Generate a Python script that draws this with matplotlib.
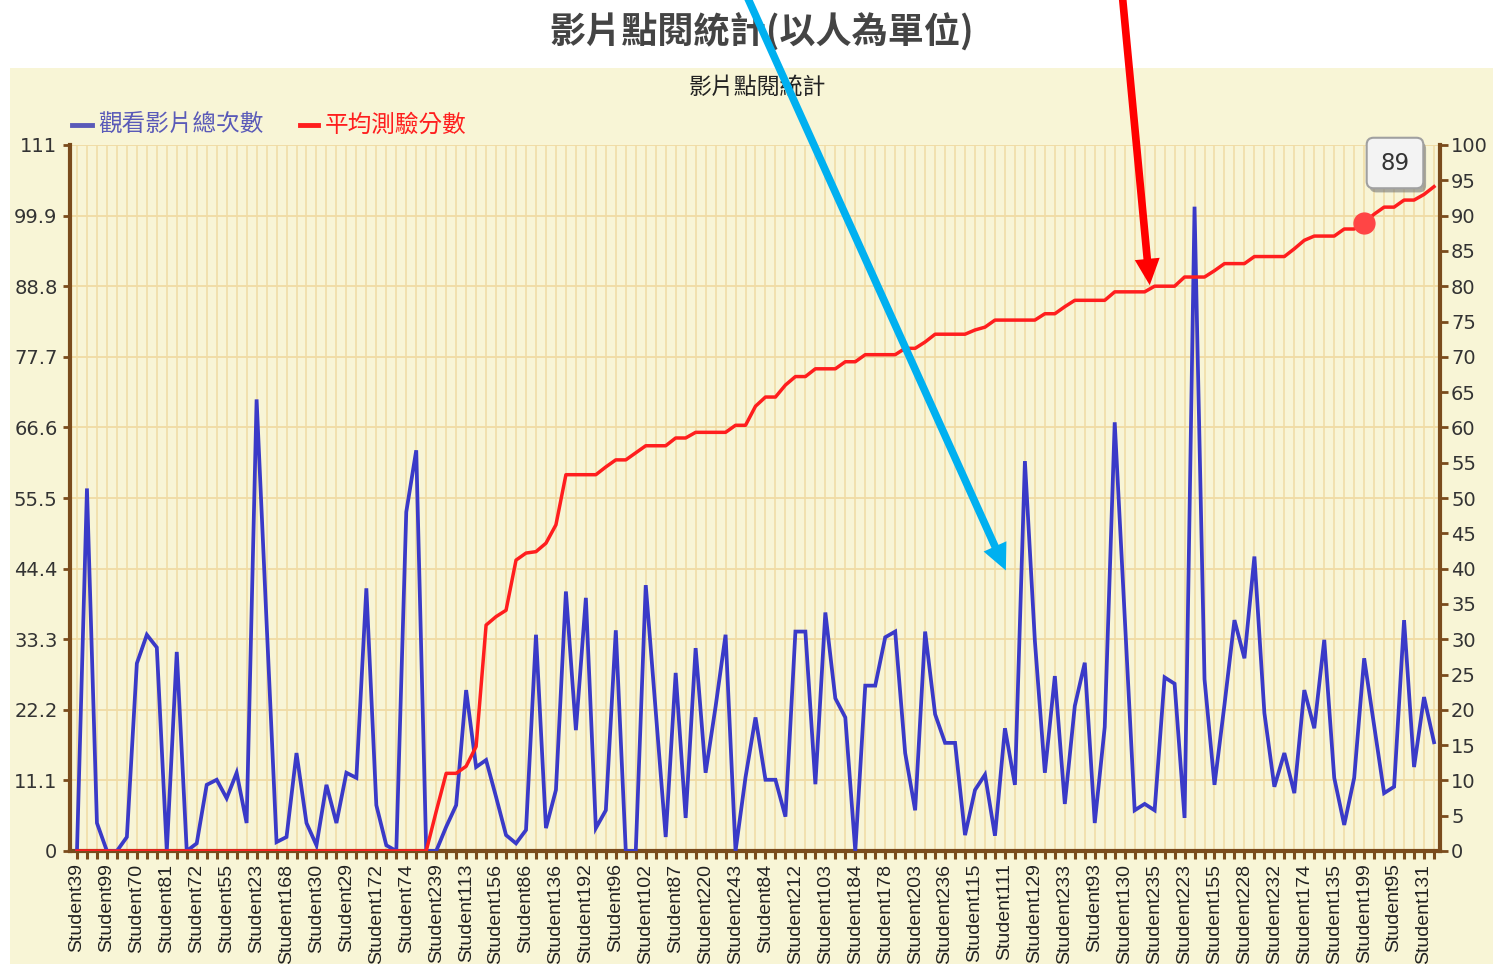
import matplotlib
matplotlib.use("Agg")
import matplotlib.pyplot as plt
from matplotlib.lines import Line2D
from matplotlib.patches import Rectangle, FancyArrowPatch
from matplotlib import patheffects as pe

# ── Data ──────────────────────────────────────────────────────────────────────

# every third student is labelled on the x axis
tick_names = [
    "Student39", "Student99", "Student70", "Student81", "Student72", "Student55",
    "Student23", "Student168", "Student30", "Student29", "Student172", "Student74",
    "Student239", "Student113", "Student156", "Student86", "Student136", "Student192",
    "Student96", "Student102", "Student87", "Student220", "Student243", "Student84",
    "Student212", "Student103", "Student184", "Student178", "Student203", "Student236",
    "Student115", "Student111", "Student129", "Student233", "Student93", "Student130",
    "Student235", "Student223", "Student155", "Student228", "Student232", "Student174",
    "Student135", "Student199", "Student95", "Student131",
]

# 觀看影片總次數 (left axis)
views = [
    0, 57, 4.4, 0, 0, 2.2, 29.5, 34, 32, 0,
    31.3, 0, 1.2, 10.4, 11.2, 8.3, 12.3, 4.4, 71, 36,
    1.4, 2.2, 15.4, 4.4, 0.9, 10.4, 4.4, 12.3, 11.5, 41.3,
    7.2, 0.9, 0, 53.3, 63, 0, 0, 3.8, 7.2, 25.3,
    13.2, 14.3, 8.5, 2.5, 1.2, 3.3, 34, 3.6, 9.6, 40.8,
    19, 39.8, 3.6, 6.4, 34.7, 0, 0, 41.8, 22, 2.2,
    28, 5.2, 31.9, 12.3, 22.7, 34, 0, 11.6, 21, 11.2,
    11.2, 5.4, 34.5, 34.5, 10.5, 37.5, 24, 21, 0, 26,
    26, 33.6, 34.5, 15.4, 6.4, 34.5, 21.5, 17, 17, 2.5,
    9.6, 12, 2.4, 19.3, 10.4, 61.3, 33, 12.3, 27.5, 7.4,
    22.8, 29.6, 4.4, 19.5, 67.4, 37, 6.4, 7.4, 6.4, 27.3,
    26.3, 5.2, 101.3, 27, 10.4, 23, 36.3, 30.3, 46.3, 21.7,
    10.1, 15.4, 9.1, 25.3, 19.3, 33.2, 11.5, 4.1, 11.5, 30.3,
    19.7, 9.1, 10.1, 36.3, 13.2, 24.2, 17.1,
]

# 平均測驗分數 (right axis)
scores = [
    0, 0, 0, 0, 0, 0, 0, 0, 0, 0,
    0, 0, 0, 0, 0, 0, 0, 0, 0, 0,
    0, 0, 0, 0, 0, 0, 0, 0, 0, 0,
    0, 0, 0, 0, 0, 0, 5.6, 11, 11, 12,
    14.8, 32, 33.2, 34.1, 41.2, 42.2, 42.4, 43.6, 46.2, 53.3,
    53.3, 53.3, 53.3, 54.4, 55.4, 55.4, 56.4, 57.4, 57.4, 57.4,
    58.5, 58.5, 59.3, 59.3, 59.3, 59.3, 60.3, 60.3, 63, 64.3,
    64.3, 66, 67.2, 67.2, 68.3, 68.3, 68.3, 69.3, 69.3, 70.3,
    70.3, 70.3, 70.3, 71.2, 71.2, 72.1, 73.2, 73.2, 73.2, 73.2,
    73.8, 74.2, 75.2, 75.2, 75.2, 75.2, 75.2, 76.1, 76.1, 77.1,
    78, 78, 78, 78, 79.2, 79.2, 79.2, 79.2, 80, 80,
    80, 81.3, 81.3, 81.3, 82.2, 83.2, 83.2, 83.2, 84.2, 84.2,
    84.2, 84.2, 85.3, 86.5, 87.1, 87.1, 87.1, 88.1, 88.1, 89,
    90.2, 91.2, 91.2, 92.2, 92.2, 93, 94.1,
]

left_ticks = [0, 11.1, 22.2, 33.3, 44.4, 55.5, 66.6, 77.7, 88.8, 99.9, 111]
left_labels = ["0", "11.1", "22.2", "33.3", "44.4", "55.5",
               "66.6", "77.7", "88.8", "99.9", "111"]
right_ticks = list(range(0, 101, 5))
hover_index = 129

# ── Style ─────────────────────────────────────────────────────────────────────

BROWN = "#7a4b1c"
BG = "#f8f5d6"
GRID = "#f0dba4"
BLUE = "#3a3ac8"
RED = "#ff1e1e"

plt.rcParams["font.family"] = ["Noto Sans CJK TC", "DejaVu Sans"]

W, H = 1493, 964


def fx(px):
    return px / W


def fy(py):
    return 1 - py / H


fig = plt.figure(figsize=(W / 100, H / 100), dpi=100)
fig.patch.set_facecolor("white")
fig.add_artist(Rectangle((fx(10), 0), 1, fy(68), transform=fig.transFigure,
                         facecolor=BG, edgecolor="none", zorder=0))

ax = fig.add_axes([fx(70), fy(851), fx(1440) - fx(70), fy(145) - fy(851)])
ax.set_facecolor(BG)
xs = list(range(len(views)))

ax.plot(xs, views, color=BLUE, lw=2.7, solid_joinstyle="miter", zorder=3)
ax.set_xlim(-0.7, len(views) - 0.4)
ax.set_ylim(0, 111)
ax.set_yticks(left_ticks)
ax.set_yticklabels(left_labels, fontsize=14, family="DejaVu Sans", color="#333")
ax.set_xticks(xs[::3])
ax.set_xticklabels(tick_names, rotation=90, fontsize=14,
                   family="Liberation Sans", color="#222")
ax.set_xticks(xs, minor=True)
ax.grid(True, axis="x", which="both", color=GRID, lw=1.1)
ax.grid(True, axis="y", which="major", color=GRID, lw=1.3)
ax.set_axisbelow(True)
ax.tick_params(axis="x", which="both", length=6, width=2.2, color=BROWN,
               direction="out", pad=3)
ax.tick_params(axis="y", length=5, width=2, color=BROWN, pad=4)
for s in ("top", "right"):
    ax.spines[s].set_visible(False)
for s in ("left", "bottom"):
    ax.spines[s].set_color(BROWN)
    ax.spines[s].set_linewidth(3)

ax2 = ax.twinx()
ax2.plot(xs, scores, color=RED, lw=2.5, zorder=4)
ax2.plot(hover_index, scores[hover_index], "o", ms=15, color="#ff4545", zorder=5)
ax2.set_ylim(0, 100)
ax2.set_yticks(right_ticks)
ax2.set_yticklabels([str(t) for t in right_ticks], fontsize=14,
                    family="DejaVu Sans", color="#333")
ax2.tick_params(axis="y", length=6, width=2, color=BROWN, pad=2)
for s in ("top", "left", "bottom"):
    ax2.spines[s].set_visible(False)
ax2.spines["right"].set_color(BROWN)
ax2.spines["right"].set_linewidth(3)

# ── Titles and legend ─────────────────────────────────────────────────────────

fig.text(fx(762), fy(31), "影片點閱統計(以人為單位)", fontsize=26, weight="bold",
         color="#444", ha="center", va="center")
fig.text(fx(757), fy(88), "影片點閱統計", fontsize=16.5, color="#222",
         ha="center", va="center")

fig.add_artist(Line2D([fx(72), fx(92)], [fy(125), fy(125)], color="#5a5ab8",
                      lw=3.5, transform=fig.transFigure))
fig.text(fx(98), fy(125), "觀看影片總次數", fontsize=17, color="#5a5ab8",
         ha="left", va="center")
fig.add_artist(Line2D([fx(300), fx(318)], [fy(125), fy(125)], color=RED,
                      lw=3.5, transform=fig.transFigure))
fig.text(fx(325), fy(125), "平均測驗分數", fontsize=17, color=RED,
         ha="left", va="center")

# tooltip of the hovered point
tip = fig.text(fx(1395), fy(163), f"{scores[hover_index]:.0f}", fontsize=16.5,
               family="DejaVu Sans", color="#333", ha="center", va="center",
               bbox=dict(boxstyle="round,pad=0.6,rounding_size=0.3",
                         fc="#f3f3f3", ec="#a0a0a0", lw=1.5))
tip.get_bbox_patch().set_path_effects(
    [pe.SimplePatchShadow(offset=(2, -3), shadow_rgbFace="#777", alpha=0.6),
     pe.Normal()])

# ── Annotation arrows ─────────────────────────────────────────────────────────

for start, end, col in (((745, -8), (1007, 573), "#00b0f0"),
                        ((1122, -8), (1150, 288), "#ff0000")):
    fig.add_artist(FancyArrowPatch(
        (fx(start[0]), fy(start[1])), (fx(end[0]), fy(end[1])),
        transform=fig.transFigure,
        arrowstyle="simple,head_length=19,head_width=18,tail_width=5.5",
        mutation_scale=1, color=col, lw=0, zorder=10))

fig.savefig("out.png", dpi=100)
